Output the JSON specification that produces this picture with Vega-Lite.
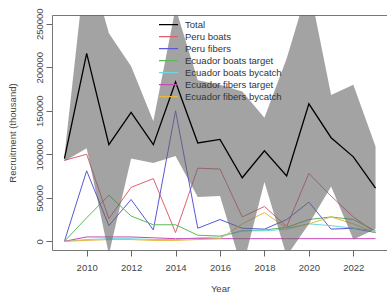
{
  "$schema": "https://vega.github.io/schema/vega-lite/v6.json",
  "width": 336,
  "height": 235,
  "autosize": {"type": "none"},
  "padding": {"left": 52, "top": 15, "right": 0, "bottom": 45},
  "config": {
    "font": "Liberation Sans",
    "view": {"stroke": "#777", "strokeWidth": 1},
    "axis": {"grid": false, "domain": false, "tickSize": 6, "tickColor": "#666", "labelColor": "#444", "titleColor": "#444", "labelFontSize": 9.5, "titleFontSize": 9.5, "titleFontWeight": "normal", "labelFont": "Liberation Sans", "titleFont": "Liberation Sans"},
    "legend": {"labelFontSize": 9.5, "labelColor": "#333", "labelFont": "Liberation Sans"}
  },
  "datasets": {
    "lines": [
      {"year": 2009, "series": "Total", "value": 95000},
      {"year": 2010, "series": "Total", "value": 216000},
      {"year": 2011, "series": "Total", "value": 111000},
      {"year": 2012, "series": "Total", "value": 148000},
      {"year": 2013, "series": "Total", "value": 111000},
      {"year": 2014, "series": "Total", "value": 183000},
      {"year": 2015, "series": "Total", "value": 113000},
      {"year": 2016, "series": "Total", "value": 117000},
      {"year": 2017, "series": "Total", "value": 73000},
      {"year": 2018, "series": "Total", "value": 104000},
      {"year": 2019, "series": "Total", "value": 75000},
      {"year": 2020, "series": "Total", "value": 158000},
      {"year": 2021, "series": "Total", "value": 119000},
      {"year": 2022, "series": "Total", "value": 97000},
      {"year": 2023, "series": "Total", "value": 61000},
      {"year": 2009, "series": "Peru boats", "value": 93000},
      {"year": 2010, "series": "Peru boats", "value": 100000},
      {"year": 2011, "series": "Peru boats", "value": 26000},
      {"year": 2012, "series": "Peru boats", "value": 62000},
      {"year": 2013, "series": "Peru boats", "value": 72000},
      {"year": 2014, "series": "Peru boats", "value": 10000},
      {"year": 2015, "series": "Peru boats", "value": 84000},
      {"year": 2016, "series": "Peru boats", "value": 83000},
      {"year": 2017, "series": "Peru boats", "value": 28000},
      {"year": 2018, "series": "Peru boats", "value": 40000},
      {"year": 2019, "series": "Peru boats", "value": 17000},
      {"year": 2020, "series": "Peru boats", "value": 78000},
      {"year": 2021, "series": "Peru boats", "value": 52000},
      {"year": 2022, "series": "Peru boats", "value": 28000},
      {"year": 2023, "series": "Peru boats", "value": 10000},
      {"year": 2009, "series": "Peru fibers", "value": 0},
      {"year": 2010, "series": "Peru fibers", "value": 81000},
      {"year": 2011, "series": "Peru fibers", "value": 18000},
      {"year": 2012, "series": "Peru fibers", "value": 48000},
      {"year": 2013, "series": "Peru fibers", "value": 13000},
      {"year": 2014, "series": "Peru fibers", "value": 150000},
      {"year": 2015, "series": "Peru fibers", "value": 15000},
      {"year": 2016, "series": "Peru fibers", "value": 25000},
      {"year": 2017, "series": "Peru fibers", "value": 15000},
      {"year": 2018, "series": "Peru fibers", "value": 14000},
      {"year": 2019, "series": "Peru fibers", "value": 25000},
      {"year": 2020, "series": "Peru fibers", "value": 45000},
      {"year": 2021, "series": "Peru fibers", "value": 14000},
      {"year": 2022, "series": "Peru fibers", "value": 15000},
      {"year": 2023, "series": "Peru fibers", "value": 10000},
      {"year": 2009, "series": "Ecuador boats target", "value": 0},
      {"year": 2010, "series": "Ecuador boats target", "value": 27000},
      {"year": 2011, "series": "Ecuador boats target", "value": 53000},
      {"year": 2012, "series": "Ecuador boats target", "value": 29000},
      {"year": 2013, "series": "Ecuador boats target", "value": 19000},
      {"year": 2014, "series": "Ecuador boats target", "value": 19000},
      {"year": 2015, "series": "Ecuador boats target", "value": 7000},
      {"year": 2016, "series": "Ecuador boats target", "value": 6000},
      {"year": 2017, "series": "Ecuador boats target", "value": 12000},
      {"year": 2018, "series": "Ecuador boats target", "value": 13000},
      {"year": 2019, "series": "Ecuador boats target", "value": 16000},
      {"year": 2020, "series": "Ecuador boats target", "value": 25000},
      {"year": 2021, "series": "Ecuador boats target", "value": 28000},
      {"year": 2022, "series": "Ecuador boats target", "value": 25000},
      {"year": 2023, "series": "Ecuador boats target", "value": 12000},
      {"year": 2009, "series": "Ecuador boats bycatch", "value": 0},
      {"year": 2010, "series": "Ecuador boats bycatch", "value": 2000},
      {"year": 2011, "series": "Ecuador boats bycatch", "value": 3000},
      {"year": 2012, "series": "Ecuador boats bycatch", "value": 3000},
      {"year": 2013, "series": "Ecuador boats bycatch", "value": 2000},
      {"year": 2014, "series": "Ecuador boats bycatch", "value": 2000},
      {"year": 2015, "series": "Ecuador boats bycatch", "value": 4000},
      {"year": 2016, "series": "Ecuador boats bycatch", "value": 5000},
      {"year": 2017, "series": "Ecuador boats bycatch", "value": 12000},
      {"year": 2018, "series": "Ecuador boats bycatch", "value": 12000},
      {"year": 2019, "series": "Ecuador boats bycatch", "value": 14000},
      {"year": 2020, "series": "Ecuador boats bycatch", "value": 20000},
      {"year": 2021, "series": "Ecuador boats bycatch", "value": 18000},
      {"year": 2022, "series": "Ecuador boats bycatch", "value": 15000},
      {"year": 2023, "series": "Ecuador boats bycatch", "value": 12000},
      {"year": 2009, "series": "Ecuador fibers target", "value": 0},
      {"year": 2010, "series": "Ecuador fibers target", "value": 5000},
      {"year": 2011, "series": "Ecuador fibers target", "value": 5000},
      {"year": 2012, "series": "Ecuador fibers target", "value": 5000},
      {"year": 2013, "series": "Ecuador fibers target", "value": 4000},
      {"year": 2014, "series": "Ecuador fibers target", "value": 3000},
      {"year": 2015, "series": "Ecuador fibers target", "value": 3000},
      {"year": 2016, "series": "Ecuador fibers target", "value": 3000},
      {"year": 2017, "series": "Ecuador fibers target", "value": 3000},
      {"year": 2018, "series": "Ecuador fibers target", "value": 3000},
      {"year": 2019, "series": "Ecuador fibers target", "value": 3000},
      {"year": 2020, "series": "Ecuador fibers target", "value": 3000},
      {"year": 2021, "series": "Ecuador fibers target", "value": 3000},
      {"year": 2022, "series": "Ecuador fibers target", "value": 3000},
      {"year": 2023, "series": "Ecuador fibers target", "value": 3000},
      {"year": 2009, "series": "Ecuador fibers bycatch", "value": 0},
      {"year": 2010, "series": "Ecuador fibers bycatch", "value": 1000},
      {"year": 2011, "series": "Ecuador fibers bycatch", "value": 2000},
      {"year": 2012, "series": "Ecuador fibers bycatch", "value": 2000},
      {"year": 2013, "series": "Ecuador fibers bycatch", "value": 1000},
      {"year": 2014, "series": "Ecuador fibers bycatch", "value": 1000},
      {"year": 2015, "series": "Ecuador fibers bycatch", "value": 2000},
      {"year": 2016, "series": "Ecuador fibers bycatch", "value": 3000},
      {"year": 2017, "series": "Ecuador fibers bycatch", "value": 20000},
      {"year": 2018, "series": "Ecuador fibers bycatch", "value": 33000},
      {"year": 2019, "series": "Ecuador fibers bycatch", "value": 15000},
      {"year": 2020, "series": "Ecuador fibers bycatch", "value": 20000},
      {"year": 2021, "series": "Ecuador fibers bycatch", "value": 28000},
      {"year": 2022, "series": "Ecuador fibers bycatch", "value": 20000},
      {"year": 2023, "series": "Ecuador fibers bycatch", "value": 10000}
    ],
    "band": [
      {"year": 2009, "lo": 92000, "hi": 98000},
      {"year": 2010, "lo": 107000, "hi": 330000},
      {"year": 2011, "lo": -15000, "hi": 239000},
      {"year": 2012, "lo": 95000, "hi": 201000},
      {"year": 2013, "lo": 90000, "hi": 138000},
      {"year": 2014, "lo": 98000, "hi": 268000},
      {"year": 2015, "lo": 51000, "hi": 185000},
      {"year": 2016, "lo": 52000, "hi": 180000},
      {"year": 2017, "lo": -32000, "hi": 172000},
      {"year": 2018, "lo": 68000, "hi": 142000},
      {"year": 2019, "lo": -17000, "hi": 210000},
      {"year": 2020, "lo": 20000, "hi": 295000},
      {"year": 2021, "lo": 63000, "hi": 168000},
      {"year": 2022, "lo": 2000, "hi": 180000},
      {"year": 2023, "lo": 14000, "hi": 109000}
    ]
  },
  "layer": [
    {
      "data": {"name": "lines"},
      "transform": [{"filter": "datum.series !== 'Total'"}],
      "mark": {"type": "line", "clip": true, "strokeWidth": 1},
      "encoding": {
        "x": {"field": "year", "type": "quantitative", "scale": {"domain": [2008.44, 2023.56], "nice": false, "zero": false}, "axis": {"title": "Year", "values": [2010, 2012, 2014, 2016, 2018, 2020, 2022], "format": "d", "labelPadding": 6, "titlePadding": 12}},
        "y": {"field": "value", "type": "quantitative", "scale": {"domain": [-10000, 260000], "nice": false, "zero": false}, "axis": {"title": "Recruitment (thousand)", "values": [0, 50000, 100000, 150000, 200000, 250000], "format": "d", "labelAngle": 270, "labelAlign": "center", "labelBaseline": "bottom", "labelPadding": 2, "titlePadding": 17}},
        "color": {"field": "series", "type": "nominal", "sort": null,
          "scale": {"domain": ["Total", "Peru boats", "Peru fibers", "Ecuador boats target", "Ecuador boats bycatch", "Ecuador fibers target", "Ecuador fibers bycatch"],
                    "range": ["#000000", "#E06070", "#5858D8", "#5CB85C", "#6FD8DC", "#C848B8", "#E8B840"]},
          "legend": {"orient": "none", "legendX": 106, "legendY": 4, "title": null, "symbolType": "stroke", "symbolSize": 361, "symbolStrokeWidth": 1.2, "labelOffset": 6, "rowPadding": 0, "clipHeight": 11.4, "padding": 0}}
      }
    },
    {
      "data": {"name": "band"},
      "mark": {"type": "area", "clip": true, "color": "#666666", "opacity": 0.6},
      "encoding": {
        "x": {"field": "year", "type": "quantitative"},
        "y": {"field": "lo", "type": "quantitative"},
        "y2": {"field": "hi"}
      }
    },
    {
      "data": {"name": "lines"},
      "transform": [{"filter": "datum.series === 'Total'"}],
      "mark": {"type": "line", "clip": true, "strokeWidth": 1.3},
      "encoding": {
        "x": {"field": "year", "type": "quantitative"},
        "y": {"field": "value", "type": "quantitative"},
        "color": {"field": "series", "type": "nominal", "sort": null}
      }
    }
  ]
}
